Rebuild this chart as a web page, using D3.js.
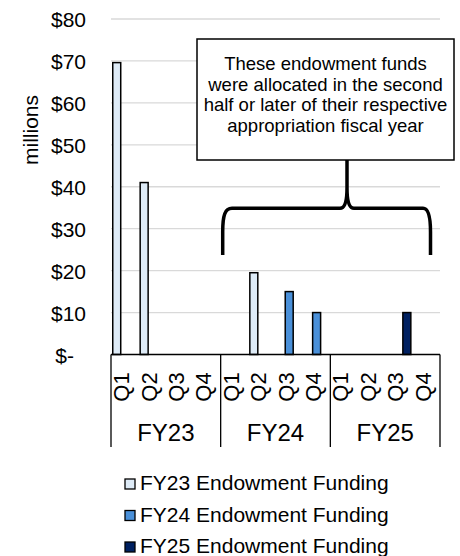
<!DOCTYPE html>
<html>
<head>
<meta charset="utf-8">
<script src="https://cdn.jsdelivr.net/npm/d3@7"></script>
<style>
  body { margin: 0; background: #fff; }
  text { font-family: "Liberation Sans", Arial, sans-serif; fill: #000; }
</style>
</head>
<body>
<div id="chart"></div>
<script>
// chart data
var years = ["FY23", "FY24", "FY25"];
var quarters = ["Q1", "Q2", "Q3", "Q4"];
var seriesNames = ["FY23 Endowment Funding", "FY24 Endowment Funding", "FY25 Endowment Funding"];
var fy23Funding = [69.6, 41, null, null, null, 19.5, null, null, null, null, null, null];
var fy24Funding = [null, null, null, null, null, null, 15, 10, null, null, null, null];
var fy25Funding = [null, null, null, null, null, null, null, null, null, null, 10, null];
var yTicks = [0, 10, 20, 30, 40, 50, 60, 70, 80];
var noteLines = ["These endowment funds", "were allocated in the second", "half or later of their respective", "appropriation fiscal year"];

var colors = ["#deebf7", "#4a90d9", "#002060"];

var width = 460, height = 556;
var svg = d3.select("#chart").append("svg")
    .attr("width", width)
    .attr("height", height);

svg.append("rect").attr("width", width).attr("height", height).attr("fill", "#fff");

// one category per quarter of each year
var cats = [];
years.forEach(function(y) {
  quarters.forEach(function(q) { cats.push({ year: y, q: q, key: y + q }); });
});

var x = d3.scaleBand()
    .domain(cats.map(function(d) { return d.key; }))
    .range([111, 440])
    .padding(0);

var xs = d3.scaleBand()
    .domain(seriesNames)
    .range([0, x.bandwidth()])
    .paddingInner(0)
    .paddingOuter(0.22);

var y = d3.scaleLinear()
    .domain([0, 80])
    .range([354.5, 19]);

// gridlines
svg.append("g")
  .selectAll("line")
  .data(yTicks.slice(1))
  .enter().append("line")
    .attr("x1", 111).attr("x2", 440)
    .attr("y1", function(d) { return y(d); })
    .attr("y2", function(d) { return y(d); })
    .attr("stroke", "#d9d9d9")
    .attr("stroke-width", 1.3);

// y axis labels
var yAxis = d3.axisLeft(y)
    .tickValues(yTicks)
    .tickSize(0)
    .tickPadding(0)
    .tickFormat(function(d) { return d === 0 ? "$-" : "$" + d; });

var yg = svg.append("g")
    .attr("transform", "translate(86,0)")
    .call(yAxis);
yg.select(".domain").remove();
yg.selectAll("text")
    .attr("font-size", 21)
    .attr("font-family", "\"Liberation Sans\", Arial, sans-serif")
    .attr("fill", "#000")
    .attr("dy", "0.36em")
    .attr("dx", function(d) { return d === 0 ? -12 : 0; });

svg.append("text")
    .attr("transform", "translate(31,130) rotate(-90)")
    .attr("text-anchor", "middle")
    .attr("dy", "0.35em")
    .attr("font-size", 21)
    .text("millions");

// bars
var allSeries = [fy23Funding, fy24Funding, fy25Funding];
allSeries.forEach(function(vals, i) {
  var data = vals.map(function(v, j) { return { key: cats[j].key, v: v }; })
    .filter(function(d) { return d.v != null; });
  svg.append("g")
    .selectAll("rect")
    .data(data)
    .enter().append("rect")
      .attr("x", function(d) { return x(d.key) + xs(seriesNames[i]); })
      .attr("y", function(d) { return y(d.v); })
      .attr("width", xs.bandwidth())
      .attr("height", function(d) { return y(0) - y(d.v); })
      .attr("fill", colors[i])
      .attr("stroke", "#000")
      .attr("stroke-width", 1.5);
});

// category axis drawn like a table
var axisBottom = 447;
svg.append("line")
    .attr("x1", 111).attr("x2", 440)
    .attr("y1", y(0)).attr("y2", y(0))
    .attr("stroke", "#000").attr("stroke-width", 1.5);

var bounds = years.map(function(yr) { return x(yr + "Q1"); });
bounds.push(x(years[years.length - 1] + "Q4") + x.bandwidth());
svg.append("g")
  .selectAll("line")
  .data(bounds)
  .enter().append("line")
    .attr("x1", function(d) { return d; })
    .attr("x2", function(d) { return d; })
    .attr("y1", y(0))
    .attr("y2", axisBottom)
    .attr("stroke", "#000")
    .attr("stroke-width", 1.3);

svg.append("g")
  .selectAll("text")
  .data(cats)
  .enter().append("text")
    .attr("transform", function(d) {
      return "translate(" + (x(d.key) + x.bandwidth() / 2) + ",387) rotate(-90)";
    })
    .attr("text-anchor", "middle")
    .attr("dy", "0.2em")
    .attr("font-size", 22)
    .text(function(d) { return d.q; });

svg.append("g")
  .selectAll("text")
  .data(years)
  .enter().append("text")
    .attr("x", function(d) { return (x(d + "Q1") + x(d + "Q4") + x.bandwidth()) / 2; })
    .attr("y", 441)
    .attr("text-anchor", "middle")
    .attr("font-size", 24)
    .text(function(d) { return d; });

// note box + brace
svg.append("rect")
    .attr("x", 197).attr("y", 39)
    .attr("width", 257).attr("height", 121)
    .attr("fill", "#fff")
    .attr("stroke", "#000")
    .attr("stroke-width", 1.5);

svg.append("g")
  .selectAll("text")
  .data(noteLines)
  .enter().append("text")
    .attr("x", 325.5)
    .attr("y", function(d, i) { return 70 + i * 20.5; })
    .attr("text-anchor", "middle")
    .attr("font-size", 18.5)
    .text(function(d) { return d; });

svg.append("path")
    .attr("d", "M222.7,255 L222.7,232 C222.7,215 225,208.3 232,208.3 L340,208.3 C345,208.3 347,200 347,188 L347,160 " +
               "M347,188 C347,200 349,208.3 354,208.3 L423,208.3 C428,208.3 430.5,215 430.5,232 L430.5,255")
    .attr("fill", "none")
    .attr("stroke", "#000")
    .attr("stroke-width", 3.5)
    .attr("stroke-linejoin", "round");

// legend
var legend = svg.append("g")
  .selectAll("g")
  .data(seriesNames)
  .enter().append("g")
    .attr("transform", function(d, i) { return "translate(125," + (490 + i * 31.5) + ")"; });

legend.append("rect")
    .attr("x", 0).attr("y", -11)
    .attr("width", 10).attr("height", 10)
    .attr("fill", function(d, i) { return colors[i]; })
    .attr("stroke", "#000")
    .attr("stroke-width", 1.3);

legend.append("text")
    .attr("x", 15)
    .attr("y", 0)
    .attr("font-size", 21)
    .text(function(d) { return d; });
</script>
</body>
</html>
